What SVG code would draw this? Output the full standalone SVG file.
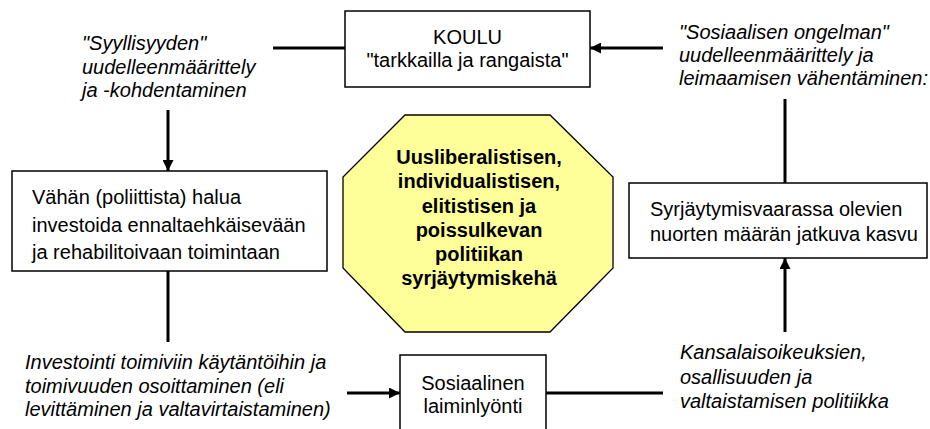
<svg xmlns="http://www.w3.org/2000/svg" width="930" height="429" viewBox="0 0 930 429">
<style>
.box{fill:#fff;stroke:#000;stroke-width:1.5}
.oct{fill:#FFFF99;stroke:#000;stroke-width:1.3}
.t{font-family:"Liberation Sans",Arial,sans-serif;font-size:20px;fill:#000}
.i{font-style:italic}
.b{font-weight:bold}
.c{text-anchor:middle}
.ln{stroke:#000;stroke-width:3;fill:none}
.ar{marker-end:url(#ah)}
</style>
<defs>
<marker id="ah" viewBox="0 0 10 10" refX="10" refY="5" markerWidth="12" markerHeight="11" markerUnits="userSpaceOnUse" orient="auto">
<path d="M0,0 L10,5 L0,10 z" fill="#000"/>
</marker>
</defs>
<rect width="930" height="429" fill="#fff"/>
<g id="connectors">
<line class="ln" x1="273" y1="48" x2="345" y2="48"/>
<line class="ln ar" x1="663" y1="48" x2="590" y2="48"/>
<line class="ln ar" x1="168" y1="110" x2="168" y2="171"/>
<line class="ln" x1="168" y1="271" x2="168" y2="342"/>
<line class="ln ar" x1="347" y1="393" x2="400" y2="393"/>
<line class="ln" x1="546" y1="393" x2="663" y2="393"/>
<line class="ln ar" x1="785" y1="332" x2="785" y2="258"/>
<line class="ln" x1="785" y1="99" x2="785" y2="183"/>
</g>
<g id="koulu">
<rect class="box" x="345" y="11" width="245" height="76"/>
<text class="t c" x="467.5" y="44">KOULU</text>
<text class="t c" x="467.5" y="67">"tarkkailla ja rangaista"</text>
</g>
<g id="syyllisyys">
<text class="t i" x="82" y="50">"Syyllisyyden"</text>
<text class="t i" x="82" y="74">uudelleenmäärittely</text>
<text class="t i" x="82" y="97">ja -kohdentaminen</text>
</g>
<g id="sosiaalisen-ongelman">
<text class="t i" x="679" y="39">"Sosiaalisen ongelman"</text>
<text class="t i" x="679" y="62">uudelleenmäärittely ja</text>
<text class="t i" x="679" y="85">leimaamisen vähentäminen:</text>
</g>
<g id="vahan">
<rect class="box" x="12" y="171" width="315" height="100"/>
<text class="t" x="32" y="204">Vähän (poliittista) halua</text>
<text class="t" x="32" y="232">investoida ennaltaehkäisevään</text>
<text class="t" x="32" y="259">ja rehabilitoivaan toimintaan</text>
</g>
<g id="keha">
<polygon class="oct" points="405,115 550,115 613,177 613,268 550,332 405,332 343,268 343,177"/>
<text class="t b c" x="479" y="164">Uusliberalistisen,</text>
<text class="t b c" x="479" y="188">individualistisen,</text>
<text class="t b c" x="479" y="212.5">elitistisen ja</text>
<text class="t b c" x="479" y="236.5">poissulkevan</text>
<text class="t b c" x="479" y="260.5">politiikan</text>
<text class="t b c" x="479" y="285">syrjäytymiskehä</text>
</g>
<g id="syrjaytymis">
<rect class="box" x="629" y="183" width="298" height="75"/>
<text class="t" x="650" y="216">Syrjäytymisvaarassa olevien</text>
<text class="t" x="650" y="241">nuorten määrän jatkuva kasvu</text>
</g>
<g id="investointi">
<text class="t i" x="25" y="369">Investointi toimiviin käytäntöihin ja</text>
<text class="t i" x="25" y="393">toimivuuden osoittaminen (eli</text>
<text class="t i" x="25" y="416">levittäminen ja valtavirtaistaminen)</text>
</g>
<g id="laiminlyonti">
<rect class="box" x="400" y="355" width="146" height="90"/>
<text class="t c" x="473" y="390">Sosiaalinen</text>
<text class="t c" x="473" y="413">laiminlyönti</text>
</g>
<g id="kansalaisoikeudet">
<text class="t i" x="680" y="359">Kansalaisoikeuksien,</text>
<text class="t i" x="680" y="384">osallisuuden ja</text>
<text class="t i" x="680" y="408">valtaistamisen politiikka</text>
</g>
</svg>
